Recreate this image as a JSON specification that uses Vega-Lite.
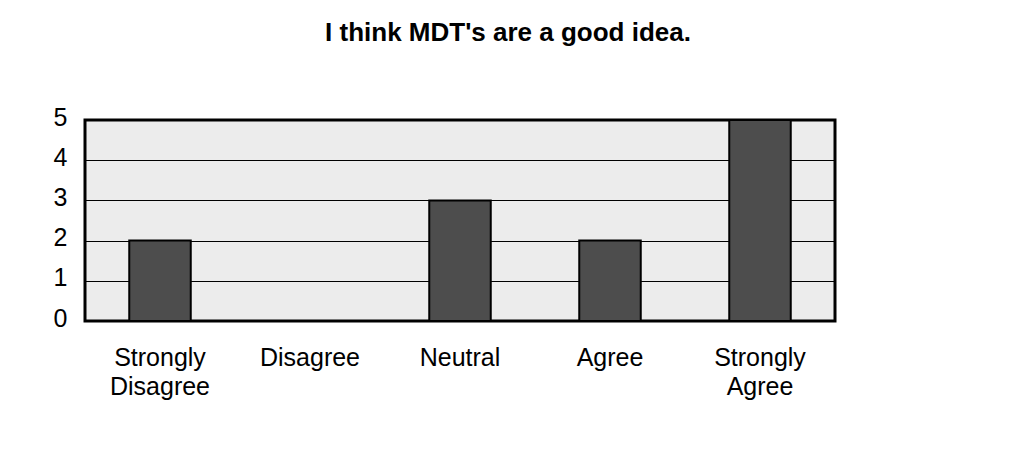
{
  "$schema": "https://vega.github.io/schema/vega-lite/v6.json",
  "width": 750,
  "height": 201,
  "autosize": {"type": "none"},
  "padding": {"left": 85, "top": 120, "right": 183, "bottom": 137},
  "background": "white",
  "title": {
    "text": "I think MDT's are a good idea.",
    "font": "Liberation Sans",
    "fontSize": 26,
    "fontWeight": "bold",
    "color": "black",
    "anchor": "middle",
    "frame": "group",
    "baseline": "alphabetic",
    "dx": 48,
    "offset": 38
  },
  "data": {
    "values": [
      {"response": "Strongly Disagree", "count": 2},
      {"response": "Disagree", "count": 0},
      {"response": "Neutral", "count": 3},
      {"response": "Agree", "count": 2},
      {"response": "Strongly Agree", "count": 5}
    ]
  },
  "mark": {"type": "bar", "fill": "#4d4d4d", "stroke": "black", "strokeWidth": 2},
  "encoding": {
    "x": {
      "field": "response",
      "type": "nominal",
      "sort": null,
      "scale": {"paddingInner": 0.59, "paddingOuter": 0.295},
      "axis": {
        "title": null,
        "labelAngle": 0,
        "labelExpr": "split(datum.label, ' ')",
        "labelFont": "Liberation Sans",
        "labelFontSize": 25,
        "labelColor": "black",
        "labelLineHeight": 29,
        "labelBaseline": "top",
        "labelPadding": 24,
        "ticks": false,
        "tickSize": 0,
        "domain": false,
        "grid": false
      }
    },
    "y": {
      "field": "count",
      "type": "quantitative",
      "scale": {"domain": [0, 5], "nice": false},
      "axis": {
        "title": null,
        "values": [0, 1, 2, 3, 4, 5],
        "labelFont": "Liberation Sans",
        "labelFontSize": 25,
        "labelColor": "black",
        "labelOffset": -3,
        "labelPadding": 18,
        "ticks": false,
        "tickSize": 0,
        "domain": false,
        "grid": true,
        "gridColor": "black",
        "gridWidth": 1,
        "gridOpacity": 1
      }
    }
  },
  "config": {
    "view": {"fill": "#ececec", "stroke": "black", "strokeWidth": 3}
  }
}
